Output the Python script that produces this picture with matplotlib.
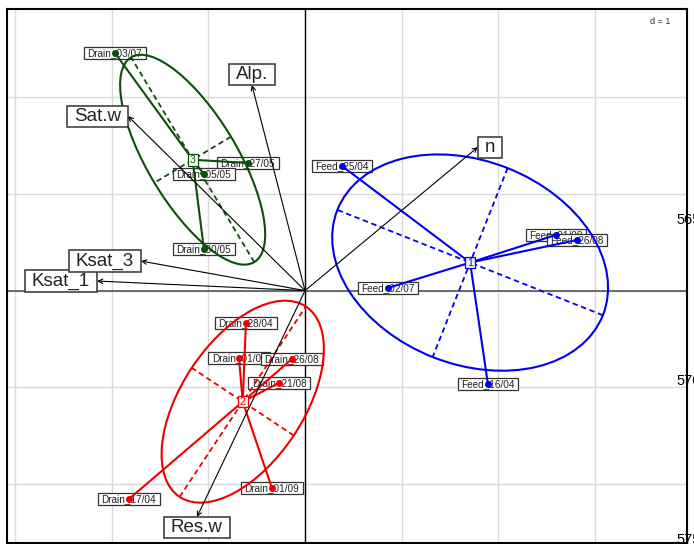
import matplotlib.pyplot as plt
import numpy as np
from matplotlib.patches import Ellipse, Rectangle

plt.rcParams["font.family"] = ["Liberation Sans", "DejaVu Sans"]

# Observations (scores), grouped
obs_labels = ["Feed_25/04", "Feed_21/08", "Feed_26/08", "Feed_02/07", "Feed_16/04",
              "Drain_28/04", "Drain_01/08", "Drain_26/08", "Drain_21/08", "Drain_01/09", "Drain_17/04",
              "Drain_03/07", "Drain_27/05", "Drain_05/05", "Drain_30/05"]
obs_x = [0.382, 2.597, 2.815, 0.858, 1.893,
         -0.612, -0.684, -0.136, -0.270, -0.343, -1.823,
         -1.968, -0.591, -1.047, -1.047]
obs_y = [1.290, 0.576, 0.524, 0.027, -0.967,
         -0.335, -0.698, -0.708, -0.957, -2.044, -2.158,
         2.460, 1.321, 1.207, 0.431]
obs_group = [1, 1, 1, 1, 1, 2, 2, 2, 2, 2, 2, 3, 3, 3, 3]

# Variables (arrows)
var_labels = ["Alp.", "Sat.w", "n", "Ksat_1", "Ksat_3", "Res.w"]
var_x = [-0.550, -1.834, 1.790, -2.153, -1.699, -1.119]
var_y = [2.128, 1.807, 1.486, 0.099, 0.306, -2.344]

group_colors = {1: "#0000ee", 2: "#ee0000", 3: "#0a4f0a"}
group_fill = {1: "#eef0ff", 2: "#fff0f0", 3: "white"}
cellipse = 1.5

fig = plt.figure(figsize=(6.94, 5.44), dpi=100)
ax = fig.add_axes([7 / 694, 1 - 543 / 544, 680 / 694, 534 / 544])
ax.set_xlim(-3.085, 3.954)
ax.set_ylim(-2.613, 2.915)
ax.set_xticks([])
ax.set_yticks([])
for s in ax.spines.values():
    s.set_linewidth(1.5)

# grid and axes through the origin
for g in range(-3, 4):
    ax.axvline(g, color="#d9d9d9", lw=1, zorder=0)
for g in range(-2, 3):
    ax.axhline(g, color="#d9d9d9", lw=1, zorder=0)
ax.axvline(0, color="black", lw=1, zorder=1)
ax.axhline(0, color="#555555", lw=1.2, zorder=1)

ax.text(0.975, 0.985, "d = 1", transform=ax.transAxes, ha="right", va="top",
        fontsize=6.5, color="#333333")

boxes = []


def boxed(x, y, s, size, ha="center", va="center", ec="#333333", fc="white",
          tc="#222222", mx=3.5, my=0.8, z=2, lw=0.9):
    t = ax.text(x, y, s, fontsize=size, ha=ha, va=va, color=tc, zorder=z + 0.05)
    boxes.append((t, mx, my, ec, fc, z, lw))


obs_x = np.array(obs_x)
obs_y = np.array(obs_y)
obs_group = np.array(obs_group)

# observation labels
for i, lab in enumerate(obs_labels):
    boxed(obs_x[i], obs_y[i], lab, 7.2, z=2 + i * 0.1)

# class stars, ellipses and centres
for g, col in group_colors.items():
    m = obs_group == g
    px, py = obs_x[m], obs_y[m]
    cx, cy = px.mean(), py.mean()
    cov = np.cov(np.vstack([px, py]), bias=True)
    vals, vecs = np.linalg.eigh(cov)
    order = np.argsort(vals)[::-1]
    vals, vecs = vals[order], vecs[:, order]
    for xx, yy in zip(px, py):
        ax.plot([cx, xx], [cy, yy], color=col, lw=1.5, zorder=5)
    ax.plot(px, py, "o", color=col, ms=4, zorder=6)
    for k in range(2):
        half = cellipse * np.sqrt(vals[k]) * vecs[:, k]
        ax.plot([cx - half[0], cx + half[0]], [cy - half[1], cy + half[1]],
                color=col, lw=1.3, ls=(0, (3, 2)), zorder=5)
    ang = np.degrees(np.arctan2(vecs[1, 0], vecs[0, 0]))
    ax.add_patch(Ellipse((cx, cy), 2 * cellipse * np.sqrt(vals[0]),
                         2 * cellipse * np.sqrt(vals[1]), angle=ang,
                         fill=False, ec=col, lw=1.5, zorder=5))
    boxed(cx, cy, str(g), 7.5, ec=col, fc=group_fill[g], tc=col, mx=2, my=0.8, z=8)

# variable arrows
for i, (lab, vx, vy) in enumerate(zip(var_labels, var_x, var_y)):
    ax.annotate("", xy=(vx, vy), xytext=(0, 0),
                arrowprops=dict(arrowstyle="->", lw=0.8, color="black",
                                mutation_scale=8, shrinkA=0, shrinkB=0),
                zorder=7)
    if abs(vy) > abs(vx):
        ha, va = "center", ("bottom" if vy > 0 else "top")
    else:
        ha, va = ("left" if vx > 0 else "right"), "center"
    boxed(vx, vy, lab, 13.5, ha=ha, va=va, mx=7, my=2, z=9 + i * 0.1, lw=1.1)

# clipped tick labels of the neighbouring panel
for yy, s in [(220, "565"), (381, "570"), (540, "575")]:
    fig.text(676 / 694, 1 - yy / 544, s, fontsize=10.5, va="center", ha="left")

# draw the label boxes from measured text extents
fig.canvas.draw()
inv = ax.transData.inverted()
for t, mx, my, ec, fc, z, lw in boxes:
    bb = t.get_window_extent()
    if t.get_ha() == "left":
        bb = bb.translated(mx, 0)
    elif t.get_ha() == "right":
        bb = bb.translated(-mx, 0)
    if t.get_va() == "bottom":
        bb = bb.translated(0, my)
    elif t.get_va() == "top":
        bb = bb.translated(0, -my)
    t.set_position(inv.transform(inv.inverted().transform(t.get_position())
                                 + np.array([bb.x0 - t.get_window_extent().x0,
                                             bb.y0 - t.get_window_extent().y0])))
    (x0, y0), (x1, y1) = inv.transform([[bb.x0 - mx, bb.y0 - my], [bb.x1 + mx, bb.y1 + my]])
    ax.add_patch(Rectangle((x0, y0), x1 - x0, y1 - y0, fc=fc, ec=ec, lw=lw, zorder=z))

fig.savefig("out.png", dpi=100)
